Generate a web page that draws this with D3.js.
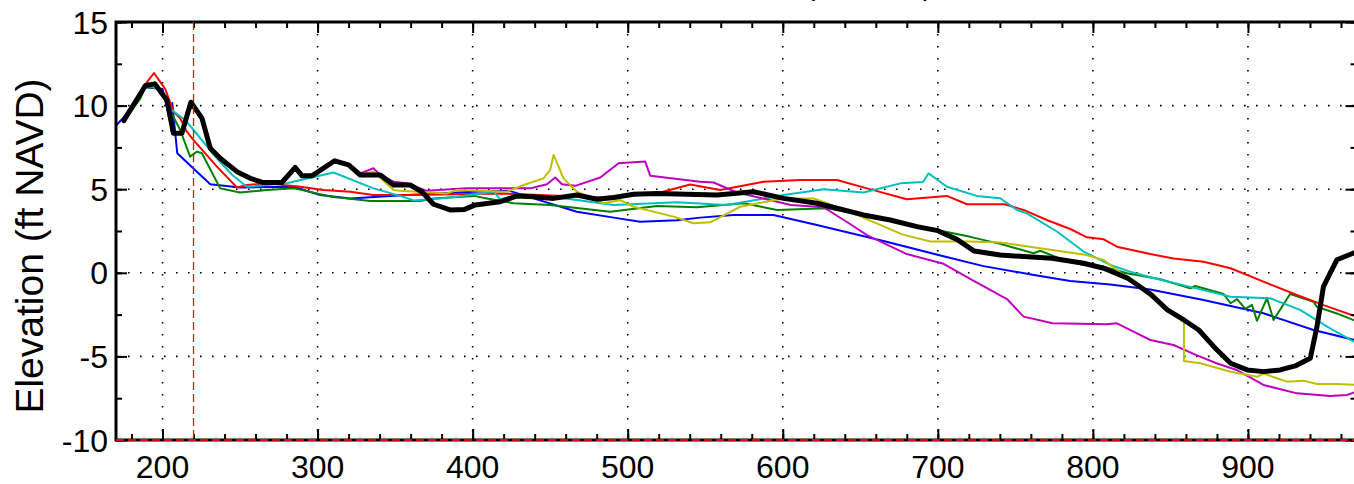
<!DOCTYPE html>
<html><head><meta charset="utf-8">
<script src="https://cdn.jsdelivr.net/npm/d3@7"></script>
<style>
html,body{margin:0;padding:0;background:#fff;}
svg{display:block;}
</style></head>
<body>
<svg id="chart" width="1354" height="484"></svg>
<script>
// ---------------- data ----------------
const xMajorTicks = [200, 300, 400, 500, 600, 700, 800, 900];
const yMajorTicks = [-10, -5, 0, 5, 10, 15];
const xMinorTicks = d3.range(180, 971, 20);
const yMinorTicks = d3.range(-10, 15.01, 2.5);
const refLineX = 220;
const refLineY = -10;
const titleText = "Transect 14 (2004-11)";
const yLabel = "Elevation (ft NAVD)";

const blueLine = [[170,8.8],[175,9.3],[189,11.1],[200,11.0],[203,9.8],[205,9.0],[206.3,10.15],[209.5,7.15],[230.8,5.3],[250,5.1],[284.5,5.15],[301.7,4.65],[321,4.45],[357.6,4.65],[379,4.75],[400.6,4.85],[424,4.9],[439.3,4.45],[467.2,3.65],[491,3.3],[508,3.05],[531.7,3.15],[546.7,3.3],[568.2,3.46],[594,3.46],[622,2.86],[665,1.9],[703,1.0],[729.5,0.4],[762,-0.13],[785.4,-0.49],[811.2,-0.7],[837,-1.0],[871.3,-1.63],[910,-2.42],[942.3,-3.42],[970,-4.05]];

const greenLine = [[175,9.1],[185.6,10.4],[188.8,11.1],[192,11.1],[198,11.0],[205,9.7],[211.4,8.54],[217.8,6.95],[222.2,7.25],[225.4,7.15],[237.2,5.05],[250,4.8],[267.3,4.95],[285,5.05],[309,4.55],[334,4.3],[366.2,4.3],[374.8,4.45],[401,4.6],[409.2,4.45],[426.4,4.16],[450,4.05],[488.7,3.65],[518.9,4.0],[544.6,3.92],[574.8,4.16],[596.3,3.76],[628.5,3.86],[665,3.26],[699.4,2.56],[720.9,2.15],[740.2,1.73],[761.7,1.17],[766,1.32],[781,0.77],[794,0.47],[807,0.37],[822,-0.03],[843.5,-0.39],[862.8,-0.93],[866,-0.79],[884.3,-1.27],[888.8,-1.82],[893,-1.58],[898.3,-2.16],[902.6,-1.92],[905.8,-2.87],[912.3,-1.52],[916.5,-2.82],[927.2,-1.27],[942.3,-1.73],[944.4,-2.03],[957.3,-2.43],[970,-2.9]];

const redLine = [[175,9.1],[190,11.4],[194.5,11.95],[201.7,11.0],[207.1,9.64],[211.4,9.24],[215.7,8.44],[220,7.94],[235.1,6.35],[248,5.1],[254.4,5.25],[267.3,5.35],[278,5.25],[288.8,5.15],[303.8,4.95],[321,4.85],[336,4.65],[361.9,4.65],[418,4.75],[482.3,4.5],[503.8,4.65],[521,4.8],[540.3,5.28],[559.6,4.95],[587.6,5.45],[611.3,5.55],[634.9,5.55],[654.3,5.05],[680,4.4],[705.8,4.6],[718.8,4.1],[743,4.1],[755.3,3.76],[770.3,3.16],[785.4,2.62],[796.2,2.12],[807,2.0],[815.5,1.56],[837,1.12],[852,0.85],[871.3,0.66],[888.8,0.27],[910,-0.53],[931.6,-1.33],[948.7,-1.93],[970,-2.62]];

const cyanLine = [[175,9.1],[190,11.2],[198,11.0],[205,9.8],[214.6,9.14],[220,8.54],[235,6.85],[245,5.85],[254.4,5.15],[280,5.35],[310.3,6.0],[336,5.05],[353.3,4.6],[361.9,4.33],[379,4.45],[389.9,4.55],[413.5,4.85],[417.8,4.4],[426.4,4.6],[450,4.55],[467.2,4.35],[490.9,4.05],[531.7,4.22],[563.9,4.05],[600.5,4.65],[626.3,5.0],[652.1,4.8],[675.8,5.35],[690.5,5.43],[694,5.95],[705.9,5.15],[725.2,4.6],[740.2,4.46],[751,3.76],[757.4,3.56],[776.8,2.47],[794,1.27],[811.2,0.47],[824,0.07],[837,-0.27],[866.8,-0.93],[888.8,-1.43],[914.2,-1.52],[933.6,-2.22],[953,-3.32],[970,-4.2]];

const magentaLine = [[175,9.1],[189,11.2],[195,11.3],[203,10.3],[205,9.3],[207,8.35],[212.5,8.35],[218.3,10.2],[225.4,9.25],[230.8,7.45],[237.2,6.85],[248,6.05],[256.6,5.65],[265,5.4],[277,5.4],[285.6,6.3],[290,5.8],[296.3,5.8],[311,6.7],[320,6.45],[327.5,5.95],[336,6.25],[340.5,5.85],[349,5.45],[357.6,5.35],[370.5,4.9],[396,5.05],[437.2,5.05],[447.9,5.3],[453.3,5.7],[457.6,5.3],[466.2,5.2],[482.3,5.7],[494.1,6.55],[511.3,6.65],[514.6,5.8],[546.7,5.45],[555.4,5.4],[570.5,4.8],[605.2,4.06],[626.3,3.92],[643.4,2.92],[654.3,2.25],[680,1.12],[703.7,0.54],[722,-0.43],[744.6,-1.57],[755.3,-2.62],[774,-3.02],[808.8,-3.08],[815.5,-3.02],[826.2,-3.52],[837,-4.02],[852,-4.32],[866.8,-4.92],[879.7,-5.41],[892.7,-5.81],[910,-6.71],[931.6,-7.21],[953,-7.37],[963.8,-7.31],[970,-7.11]];

const yellowLine = [[175,9.1],[189,11.2],[195,11.3],[203,10.3],[205,9.3],[207,8.35],[212.5,8.35],[218.3,10.2],[225.4,9.25],[230.8,7.45],[237.2,6.85],[248,6.05],[256.6,5.65],[265,5.4],[277,5.4],[285.6,6.3],[290,5.8],[296.3,5.8],[311,6.7],[320,6.45],[327.5,5.9],[331.8,5.95],[336,6.05],[349,4.95],[353.3,4.9],[383.3,4.75],[389.9,4.95],[422.1,4.85],[432.8,5.25],[445.7,5.65],[450,6.15],[452.2,7.05],[458.6,5.65],[467.2,4.85],[484.4,4.16],[495.2,4.35],[503.8,3.95],[529.6,3.36],[542.4,2.96],[553.2,3.02],[572.6,3.95],[600.5,4.45],[619.8,4.45],[628.5,4.16],[647.8,3.46],[677,2.3],[695.1,1.87],[720.9,1.87],[740.2,1.81],[772.5,1.38],[794,1.1],[807,0.77],[815.6,0.17],[830,-0.9],[845.5,-2.0],[858.7,-2.95],[858.7,-5.27],[869.2,-5.41],[888.8,-5.92],[906,-6.22],[910,-6.01],[918.7,-6.31],[925,-6.51],[935.9,-6.45],[944.5,-6.65],[957.4,-6.65],[970,-6.71]];

const blackLine = [[175,9.1],[189,11.2],[195,11.3],[203,10.3],[205,9.3],[207,8.35],[212.5,8.35],[218.3,10.2],[225.4,9.25],[230.8,7.45],[237.2,6.85],[248,6.05],[256.6,5.65],[265,5.4],[277,5.4],[285.6,6.3],[290,5.8],[296.3,5.8],[311,6.7],[320,6.45],[327.5,5.85],[340.5,5.85],[349,5.25],[359.7,5.25],[367.3,4.85],[374.8,4.1],[385.5,3.76],[394.5,3.78],[401.7,4.06],[417.8,4.25],[428.6,4.6],[439.3,4.55],[452.2,4.45],[467.2,4.65],[480.2,4.4],[491,4.5],[503.8,4.7],[518.9,4.75],[557.5,4.65],[581.1,4.85],[600.5,4.45],[622,4.16],[634.9,3.86],[652.1,3.46],[669.3,3.16],[686.5,2.76],[700,2.52],[712.3,2.0],[723.5,1.3],[740.2,1.06],[773.5,0.87],[794,0.57],[807,0.27],[822,-0.3],[837.3,-1.28],[848,-2.22],[858.7,-2.82],[868.3,-3.42],[878,-4.42],[888.8,-5.41],[899.5,-5.81],[910,-5.91],[920.8,-5.81],[930.5,-5.57],[940.2,-5.11],[944.5,-3.22],[948.7,-0.82],[953,-0.02],[957.4,0.78],[970,1.25]];

const seriesList = [
  {data: blueLine,    color: "#0000ff", width: 2},
  {data: greenLine,   color: "#008000", width: 2},
  {data: redLine,     color: "#ff0000", width: 2},
  {data: cyanLine,    color: "#00bfbf", width: 2},
  {data: magentaLine, color: "#bf00bf", width: 2},
  {data: yellowLine,  color: "#bfbf00", width: 2},
  {data: blackLine,   color: "#000000", width: 5}
];

// ---------------- layout ----------------
const L = 116, R = 1356.5, T = 22, B = 440;
const x = d3.scaleLinear().domain([170, 970]).range([L, R]);
const y = d3.scaleLinear().domain([-10, 15]).range([B, T]);
const tickFont = "'Liberation Sans Narrow','Arial Narrow','Liberation Sans',Arial,sans-serif";

const svg = d3.select("#chart");
svg.append("rect").attr("width", 1354).attr("height", 484).attr("fill", "#fff");

svg.append("defs").append("clipPath").attr("id", "clip")
  .append("rect").attr("x", L).attr("y", T).attr("width", R - L).attr("height", B - T);

// title (mostly above the window, only the paren bottoms show)
svg.append("text").attr("x", 933).attr("y", -5).attr("text-anchor", "end")
  .attr("font-family", "'Liberation Sans',Arial,sans-serif").attr("font-size", 30).text(titleText);

// grid
const grid = svg.append("g").attr("stroke", "#000").attr("stroke-width", 1.6)
  .attr("stroke-dasharray", "1.6,10.4").attr("fill", "none");
xMajorTicks.forEach(v => grid.append("line").attr("x1", x(v)).attr("x2", x(v)).attr("y1", T).attr("y2", B));
yMajorTicks.filter(v => v > -10 && v < 15).forEach(v =>
  grid.append("line").attr("x1", L).attr("x2", R).attr("y1", y(v)).attr("y2", y(v)));

// lines
const line = d3.line().x(d => x(d[0])).y(d => y(d[1]));
const plot = svg.append("g").attr("clip-path", "url(#clip)");
seriesList.forEach(s => {
  plot.append("path").datum(s.data).attr("d", line).attr("fill", "none")
    .attr("stroke", s.color).attr("stroke-width", s.width)
    .attr("stroke-linejoin", "round").attr("stroke-linecap", "round");
});

// axes (ticks inward)
function styleAxis(g) {
  g.select(".domain").remove();
  g.selectAll(".tick line").attr("stroke", "#000").attr("stroke-width", 2);
  g.selectAll(".tick text").remove();
}
svg.append("g").attr("transform", `translate(0,${B})`)
  .call(d3.axisBottom(x).tickValues(xMinorTicks).tickSize(-6)).call(styleAxis);
svg.append("g").attr("transform", `translate(0,${B})`)
  .call(d3.axisBottom(x).tickValues(xMajorTicks).tickSize(-11)).call(styleAxis);
svg.append("g").attr("transform", `translate(0,${T})`)
  .call(d3.axisTop(x).tickValues(xMinorTicks).tickSize(-6)).call(styleAxis);
svg.append("g").attr("transform", `translate(0,${T})`)
  .call(d3.axisTop(x).tickValues(xMajorTicks).tickSize(-11)).call(styleAxis);
svg.append("g").attr("transform", `translate(${L},0)`)
  .call(d3.axisLeft(y).tickValues(yMinorTicks).tickSize(-6)).call(styleAxis);
svg.append("g").attr("transform", `translate(${L},0)`)
  .call(d3.axisLeft(y).tickValues(yMajorTicks).tickSize(-11)).call(styleAxis);
svg.append("g").attr("transform", `translate(${R},0)`)
  .call(d3.axisRight(y).tickValues(yMinorTicks).tickSize(-6)).call(styleAxis);
svg.append("g").attr("transform", `translate(${R},0)`)
  .call(d3.axisRight(y).tickValues(yMajorTicks).tickSize(-11)).call(styleAxis);

// box
svg.append("rect").attr("x", L).attr("y", T).attr("width", R - L).attr("height", B - T)
  .attr("fill", "none").attr("stroke", "#000").attr("stroke-width", 3);

// reference lines
svg.append("line").attr("x1", x(refLineX)).attr("x2", x(refLineX)).attr("y1", T).attr("y2", B)
  .attr("stroke", "#ff0000").attr("stroke-width", 1.3).attr("stroke-dasharray", "8,4");
svg.append("line").attr("x1", L).attr("x2", R).attr("y1", y(refLineY)).attr("y2", y(refLineY))
  .attr("stroke", "#e00000").attr("stroke-width", 2).attr("stroke-dasharray", "8,4");

// tick labels
svg.append("g").selectAll("text").data(xMajorTicks).join("text")
  .attr("x", d => x(d)).attr("y", 478).attr("text-anchor", "middle")
  .attr("font-family", tickFont).attr("font-size", 32).text(d => d);
svg.append("g").selectAll("text").data(yMajorTicks).join("text")
  .attr("x", 108).attr("y", d => y(d) + 11.5).attr("text-anchor", "end")
  .attr("font-family", tickFont).attr("font-size", 32).text(d => d);

// y label
svg.append("text").attr("transform", "translate(43,246) rotate(-90)")
  .attr("text-anchor", "middle").attr("font-family", "'Liberation Sans',Arial,sans-serif")
  .attr("font-size", 39).text(yLabel);
</script>
</body></html>
